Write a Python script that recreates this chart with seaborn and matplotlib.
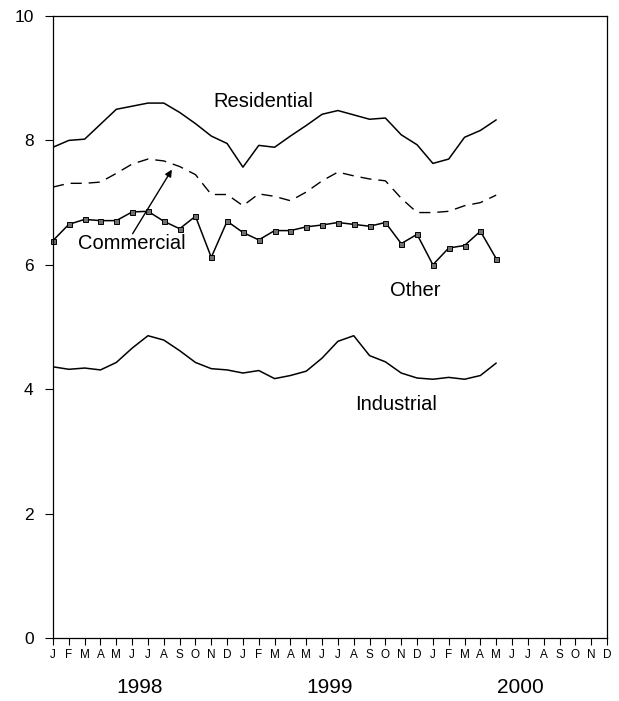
import numpy as np
import pandas as pd
import matplotlib
matplotlib.use("Agg")
import matplotlib.pyplot as plt
import seaborn as sns

months = ["Jan 1998", "Feb 1998", "Mar 1998", "Apr 1998", "May 1998", "Jun 1998",
          "Jul 1998", "Aug 1998", "Sep 1998", "Oct 1998", "Nov 1998", "Dec 1998",
          "Jan 1999", "Feb 1999", "Mar 1999", "Apr 1999", "May 1999", "Jun 1999",
          "Jul 1999", "Aug 1999", "Sep 1999", "Oct 1999", "Nov 1999", "Dec 1999",
          "Jan 2000", "Feb 2000", "Mar 2000", "Apr 2000", "May 2000"]

residential = [7.89, 8.00, 8.02, 8.26, 8.50, 8.55, 8.60, 8.60, 8.45, 8.27, 8.07, 7.95,
               7.57, 7.92, 7.89, 8.07, 8.24, 8.42, 8.48, 8.41, 8.34, 8.36, 8.09, 7.93,
               7.63, 7.70, 8.05, 8.16, 8.33]
commercial = [7.25, 7.31, 7.31, 7.33, 7.47, 7.62, 7.70, 7.67, 7.58, 7.45, 7.13, 7.13,
              6.95, 7.14, 7.10, 7.03, 7.17, 7.35, 7.49, 7.43, 7.38, 7.35, 7.07, 6.84,
              6.84, 6.86, 6.95, 7.00, 7.12]
other = [6.39, 6.65, 6.73, 6.71, 6.71, 6.85, 6.86, 6.70, 6.58, 6.78, 6.12, 6.70,
         6.52, 6.40, 6.55, 6.55, 6.61, 6.64, 6.68, 6.65, 6.62, 6.68, 6.34, 6.49,
         6.00, 6.27, 6.31, 6.54, 6.10]
industrial = [4.36, 4.32, 4.34, 4.31, 4.43, 4.66, 4.86, 4.79, 4.62, 4.43, 4.33, 4.31,
              4.26, 4.30, 4.17, 4.22, 4.29, 4.50, 4.77, 4.86, 4.54, 4.44, 4.26, 4.18,
              4.16, 4.19, 4.16, 4.22, 4.42]

month_letters = ["J", "F", "M", "A", "M", "J", "J", "A", "S", "O", "N", "D"] * 3
years = ["1998", "1999", "2000"]
y_ticks = [0, 2, 4, 6, 8, 10]

sns.set_theme(style="white")
plt.rcParams['font.family'] = ['Liberation Sans', 'DejaVu Sans']
plt.rcParams['text.color'] = 'black'
plt.rcParams['xtick.color'] = 'black'
plt.rcParams['ytick.color'] = 'black'
plt.rcParams['axes.labelcolor'] = 'black'

idx = np.arange(len(months))
df = pd.DataFrame({
    "t": np.tile(idx, 4),
    "value": residential + commercial + other + industrial,
    "sector": (["Residential"] * len(idx) + ["Commercial"] * len(idx)
               + ["Other"] * len(idx) + ["Industrial"] * len(idx)),
})

fig = plt.figure(figsize=(6.19, 7.01), dpi=100)
ax = fig.add_axes([53 / 619, 1 - 638 / 701, (607 - 53) / 619, (638 - 16) / 701])

for name in ["Residential", "Industrial"]:
    sns.lineplot(data=df[df.sector == name], x="t", y="value", ax=ax,
                 color="black", linewidth=1.1, legend=False)
sns.lineplot(data=df[df.sector == "Commercial"], x="t", y="value", ax=ax,
             color="black", linewidth=1.0, legend=False, dashes=False)
ax.lines[-1].set_dashes([8, 5])
sns.lineplot(data=df[df.sector == "Other"], x="t", y="value", ax=ax,
             color="black", linewidth=1.1, legend=False, marker="s",
             markersize=3.6, markerfacecolor="#707070", markeredgecolor="black",
             markeredgewidth=0.7)
ax.lines[-1].set_clip_on(False)

ax.set_xlim(0, 35)
ax.set_ylim(0, 10)
ax.set_xticks(np.arange(36))
ax.set_xticklabels(month_letters, fontsize=8.5)
ax.set_yticks(y_ticks)
ax.set_yticklabels([str(v) for v in y_ticks], fontsize=12.5)
ax.tick_params(axis="x", direction="out", length=5, width=0.8, pad=3, bottom=True, colors="black")
ax.tick_params(axis="y", direction="out", length=6, width=0.8, pad=8, left=True, colors="black")
ax.set_xlabel("")
ax.set_ylabel("")
for s in ax.spines.values():
    s.set_visible(True)
    s.set_color("black")
    s.set_linewidth(0.9)

trans = matplotlib.transforms.blended_transform_factory(ax.transData, ax.transAxes)
for i, yr in enumerate(years):
    ax.text(5.5 + 12 * i, -0.080, yr, transform=trans, ha="center", va="center",
            fontsize=15, color="black")

ax.text(13.27, 8.62, "Residential", ha="center", va="center", fontsize=14.5, color="black")
ax.text(4.99, 6.35, "Commercial", ha="center", va="center", fontsize=14.5, color="black")
ax.text(22.87, 5.59, "Other", ha="center", va="center", fontsize=14.5, color="black")
ax.text(21.7, 3.75, "Industrial", ha="center", va="center", fontsize=14.5, color="black")
ax.annotate("", xy=(7.51, 7.53), xytext=(5.03, 6.50),
            arrowprops=dict(arrowstyle="-|>", color="black", lw=1.0,
                            mutation_scale=10, shrinkA=0, shrinkB=0))

fig.savefig("out.png", dpi=100)
